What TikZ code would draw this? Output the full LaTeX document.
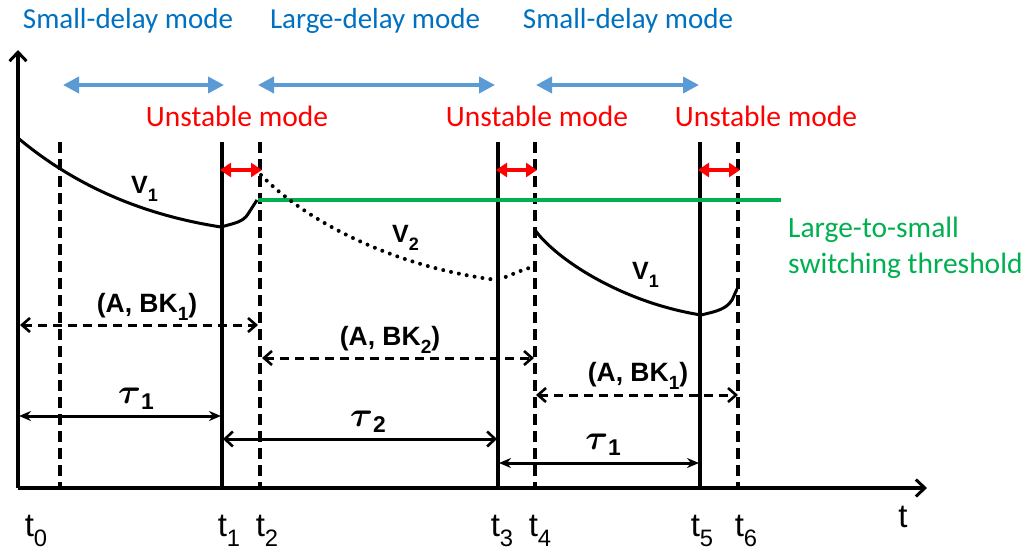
\documentclass[tikz,border=0pt]{standalone}
\usepackage{fontspec}
\setmainfont{Liberation Sans}
\newfontfamily\calfont{Carlito}
\usetikzlibrary{arrows.meta}
\definecolor{modeblue}{HTML}{0070C0}
\definecolor{arrowblue}{HTML}{5B9BD5}
\definecolor{thrgreen}{HTML}{00B050}
\newcommand\lowsub[1]{\raisebox{-0.32em}{\scalebox{0.72}{#1}}}
\newcommand\tausub[1]{\raisebox{-0.28em}{\scalebox{0.95}{#1}}}
\newcommand\bigtau{\scalebox{1.4}{\boldmath$\tau$}}
\begin{document}
\begin{tikzpicture}[x=1pt,y=-1pt,
  axis/.style={line width=3.4pt,-{Straight Barb[length=9pt,width=17pt,line width=3pt]}},
  solidline/.style={line width=3.4pt},
  dashline/.style={line width=3.4pt,dash pattern=on 11pt off 6pt},
  curve/.style={line width=3pt},
  dotcurve/.style={line width=4pt,line cap=round,dash pattern=on 0pt off 8pt},
  dasharrow/.style={line width=3pt,dash pattern=on 9pt off 6pt,
     {Straight Barb[length=8pt,width=14pt,line width=2.6pt]}-{Straight Barb[length=8pt,width=14pt,line width=2.6pt]}},
  tauarrow/.style={line width=3pt,{Stealth[length=12pt,width=10pt]}-{Stealth[length=12pt,width=10pt]}},
  tauarrowB/.style={line width=3pt,{Straight Barb[length=8pt,width=15pt,line width=2.6pt]}-{Straight Barb[length=8pt,width=15pt,line width=2.6pt]}},
  bluearrow/.style={line width=3.8pt,arrowblue,{Triangle[length=16pt,width=16pt]}-{Triangle[length=16pt,width=16pt]}},
  redarrow/.style={line width=3.8pt,red,{Triangle[length=11pt,width=14pt]}-{Triangle[length=11pt,width=14pt]}},
  bluetext/.style={font=\calfont\fontsize{29}{30}\selectfont,text=modeblue,anchor=base,inner sep=0pt},
  redtext/.style={font=\calfont\fontsize{29.5}{30}\selectfont,text=red,anchor=base,inner sep=0pt},
  greentext/.style={font=\calfont\fontsize{29.5}{30}\selectfont,text=thrgreen,anchor=base west,inner sep=0pt},
  lbl/.style={font=\bfseries\fontsize{25}{26}\selectfont,anchor=base,inner sep=0pt},
  klbl/.style={font=\bfseries\fontsize{26.5}{28}\selectfont,anchor=base,inner sep=0pt},
  taulbl/.style={font=\bfseries\fontsize{24}{26}\selectfont,anchor=base,inner sep=0pt},
  tlbl/.style={font=\fontsize{33}{34}\selectfont,anchor=base,inner sep=0pt}
]
\useasboundingbox (0,0) rectangle (1027,552);
% axes
\coordinate (O) at (18,488);
\coordinate (ytop) at (18,50);
\coordinate (xend) at (927,488);
\draw[axis] (O) -- (ytop);
\draw[axis] (O) -- (xend);
% vertical lines
\foreach \n/\x in {t0/60,t2/260,t4/535,t6/738}{
  \coordinate (\n top) at (\x,142);
  \coordinate (\n bot) at (\x,488);
  \draw[dashline] (\n top) -- (\n bot);
}
\foreach \n/\x in {t1/222,t3/498,t5/700}{
  \coordinate (\n top) at (\x,142);
  \coordinate (\n bot) at (\x,488);
  \draw[solidline] (\n top) -- (\n bot);
}
% mode texts
\node[bluetext] (m1) at (128,28) {Small-delay mode};
\node[bluetext] (m2) at (375,28) {Large-delay mode};
\node[bluetext] (m3) at (628,28) {Small-delay mode};
\coordinate (b1l) at (63,85); \coordinate (b1r) at (224,85);
\coordinate (b2l) at (258,85); \coordinate (b2r) at (495,85);
\coordinate (b3l) at (536,85); \coordinate (b3r) at (699,85);
\draw[bluearrow] (b1l) -- (b1r);
\draw[bluearrow] (b2l) -- (b2r);
\draw[bluearrow] (b3l) -- (b3r);
\node[redtext] (u1) at (237,126) {Unstable mode};
\node[redtext] (u2) at (537,126) {Unstable mode};
\node[redtext] (u3) at (766,126) {Unstable mode};
\coordinate (r1l) at (220,170); \coordinate (r1r) at (262,170);
\coordinate (r2l) at (496,170); \coordinate (r2r) at (537,170);
\coordinate (r3l) at (698,170); \coordinate (r3r) at (740,170);
\draw[redarrow] (r1l) -- (r1r);
\draw[redarrow] (r2l) -- (r2r);
\draw[redarrow] (r3l) -- (r3r);
% threshold
\coordinate (gl) at (258,200); \coordinate (gr) at (781,200);
\draw[line width=3.8pt,thrgreen] (gl) -- (gr);
\node[greentext] (g1) at (788,237) {Large-to-small};
\node[greentext] (g2) at (788,273) {switching threshold};
% curves
\draw[curve] (18,138) .. controls (80,190) and (150,216) .. (221,227)
  .. controls (235,223) and (243,222) .. (248,214) -- (257,200);
\draw[dotcurve] (261,175) .. controls (310,225) and (400,268) .. (497,280)
  .. controls (510,276) and (520,270) .. (533,267);
\draw[curve] (535,230) .. controls (555,258) and (620,302) .. (701,315)
  .. controls (718,311) and (726,309) .. (732,300) -- (737,289);
\node[lbl,anchor=base west] (v1a) at (131,193) {V\lowsub{1}};
\node[lbl,anchor=base west] (v2) at (392,242) {V\lowsub{2}};
\node[lbl,anchor=base west] (v1b) at (632,279) {V\lowsub{1}};
% (A,BK) arrows
\coordinate (d1l) at (20,325); \coordinate (d1r) at (258,325);
\coordinate (d2l) at (262,358); \coordinate (d2r) at (534,358);
\coordinate (d3l) at (536,395); \coordinate (d3r) at (738,395);
\draw[dasharrow] (d1l) -- (d1r);
\draw[dasharrow] (d2l) -- (d2r);
\draw[dasharrow] (d3l) -- (d3r);
\node[klbl] (k1) at (147,312) {(A, BK\lowsub{1})};
\node[klbl] (k2) at (390,345) {(A, BK\lowsub{2})};
\node[klbl] (k3) at (638,381) {(A, BK\lowsub{1})};
% tau arrows
\coordinate (a1l) at (19,416); \coordinate (a1r) at (221,416);
\coordinate (a2l) at (223,439); \coordinate (a2r) at (497,439);
\coordinate (a3l) at (499,463); \coordinate (a3r) at (699,463);
\draw[tauarrow] (a1l) -- (a1r);
\draw[tauarrowB] (a2l) -- (a2r);
\draw[tauarrow] (a3l) -- (a3r);
\node[taulbl] (ta1) at (136,403) {\bigtau\tausub{1}};
\node[taulbl] (ta2) at (368,426) {\bigtau\tausub{2}};
\node[taulbl] (ta3) at (603,449) {\bigtau\tausub{1}};
% tick labels
\node[tlbl] (l0) at (36,536) {t\lowsub{0}};
\node[tlbl] (l1) at (229,536) {t\lowsub{1}};
\node[tlbl] (l2) at (267,536) {t\lowsub{2}};
\node[tlbl] (l3) at (502,536) {t\lowsub{3}};
\node[tlbl] (l4) at (540,536) {t\lowsub{4}};
\node[tlbl] (l5) at (702,536) {t\lowsub{5}};
\node[tlbl] (l6) at (746,536) {t\lowsub{6}};
\node[tlbl] (lt) at (903,527) {t};
\end{tikzpicture}
\end{document}
